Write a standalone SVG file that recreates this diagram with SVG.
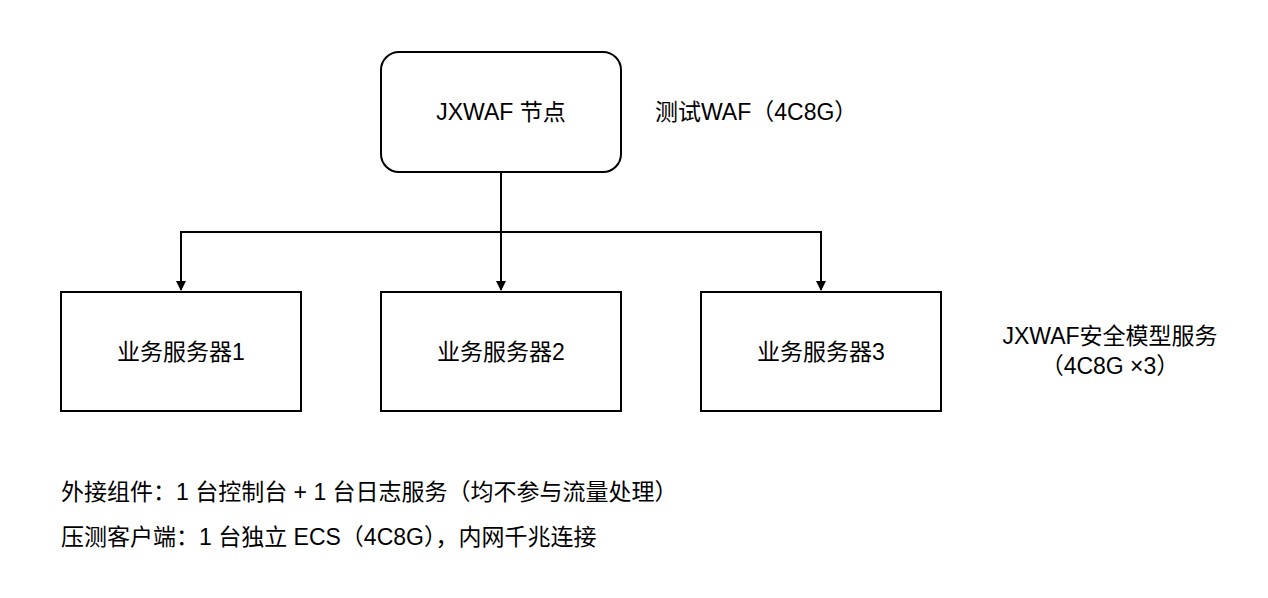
<svg xmlns="http://www.w3.org/2000/svg" width="1268" height="598" viewBox="0 0 1268 598">
<style>
text{font-family:"Liberation Sans","Noto Sans CJK SC",sans-serif;font-size:23px;fill:#000}
.c{text-anchor:middle;dominant-baseline:central}
.box{fill:#fff;stroke:#000;stroke-width:2}
.ln{fill:none;stroke:#000;stroke-width:2}
</style>
<defs><marker id="a" markerWidth="10" markerHeight="10" refX="9" refY="5" orient="auto" markerUnits="userSpaceOnUse"><path d="M0,0 L10,5 L0,10 Z" fill="#000"/></marker></defs>
<rect width="1268" height="598" fill="#fff"/>
<g id="connectors">
<path class="ln" d="M501,172 V232 H181 V290" marker-end="url(#a)"/>
<path class="ln" d="M501,232 V290" marker-end="url(#a)"/>
<path class="ln" d="M501,232 H821 V290" marker-end="url(#a)"/>
</g>
<g id="waf"><rect class="box" x="381" y="52" width="240" height="120" rx="18"/><text class="c" x="501" y="112">JXWAF 节点</text></g>
<g id="s1"><rect class="box" x="61" y="292" width="240" height="119"/><text class="c" x="181" y="352">业务服务器1</text></g>
<g id="s2"><rect class="box" x="381" y="292" width="240" height="119"/><text class="c" x="501" y="352">业务服务器2</text></g>
<g id="s3"><rect class="box" x="701" y="292" width="240" height="119"/><text class="c" x="821" y="352">业务服务器3</text></g>
<text x="655" y="112" dominant-baseline="central">测试WAF（4C8G）</text>
<text class="c" x="1110" y="336">JXWAF安全模型服务</text>
<text class="c" x="1110" y="366">（4C8G ×3）</text>
<text x="61" y="492" dominant-baseline="central">外接组件：1 台控制台 + 1 台日志服务（均不参与流量处理）</text>
<text x="61" y="537" dominant-baseline="central">压测客户端：1 台独立 ECS（4C8G），内网千兆连接</text>
</svg>
